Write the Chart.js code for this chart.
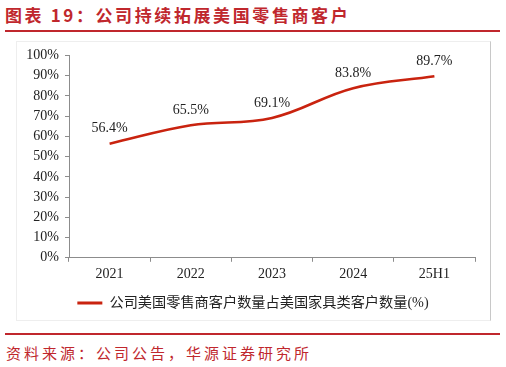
<!DOCTYPE html>
<html>
<head>
<meta charset="utf-8">
<script src="https://cdn.jsdelivr.net/npm/chart.js@4.4.0/dist/chart.umd.min.js"></script>
<style>
  html, body { margin: 0; padding: 0; background: #fff; }
  body { width: 506px; height: 367px; position: relative; overflow: hidden; }
  .title { position: absolute; left: 5px; top: 4px; font: bold 17px "Noto Sans CJK SC", sans-serif; letter-spacing: 2.6px; color: #C0272D; line-height: 22px; white-space: nowrap; }
  .rule { position: absolute; left: 5px; width: 495px; height: 2px; background: #C0272D; }
  .frame { position: absolute; left: 16px; top: 41px; width: 473px; height: 278px; border: 1px solid #eeeeee; border-right-color: #c8c8c8; }
  .chart { position: absolute; left: 16px; top: 41px; width: 474px; height: 279px; }
  .source { position: absolute; left: 6px; top: 342px; font: 15px "Noto Sans CJK SC", sans-serif; letter-spacing: 3px; color: #C0272D; line-height: 22px; white-space: nowrap; }
</style>
</head>
<body>
<div class="title">图表 19：公司持续拓展美国零售商客户</div>
<div class="rule" style="top:30px"></div>
<div class="frame"></div>
<div class="chart"><canvas id="c"></canvas></div>
<div class="rule" style="top:333px"></div>
<div class="source">资料来源：公司公告，华源证券研究所</div>

<script>
// chart data
const years = ['2021', '2022', '2023', '2024', '25H1'];
const shares = [56.4, 65.5, 69.1, 83.8, 89.7];
const seriesName = '公司美国零售商客户数量占美国家具类客户数量(%)';
const yTicks = [0, 10, 20, 30, 40, 50, 60, 70, 80, 90, 100];

const lineColor = '#C9230F';
const axisColor = '#8c8c8c';
const serif = '"Liberation Serif", "Times New Roman", serif';

// value labels above each point
const pointLabels = {
  id: 'pointLabels',
  afterDatasetsDraw(chart) {
    const ctx = chart.ctx;
    const meta = chart.getDatasetMeta(0);
    ctx.save();
    ctx.font = '14px ' + serif;
    ctx.fillStyle = '#222';
    ctx.textAlign = 'center';
    ctx.textBaseline = 'middle';
    meta.data.forEach((pt, i) => {
      ctx.fillText(shares[i].toFixed(1) + '%', pt.x, pt.y - 15);
    });
    ctx.restore();
  }
};

new Chart(document.getElementById('c'), {
  type: 'line',
  data: {
    labels: years,
    datasets: [{
      label: seriesName,
      data: shares,
      borderColor: lineColor,
      backgroundColor: lineColor,
      borderWidth: 2.6,
      tension: 0.38,
      pointRadius: 0,
      fill: false
    }]
  },
  options: {
    responsive: true,
    maintainAspectRatio: false,
    animation: false,
    layout: { padding: { left: 0, right: 0, top: 14, bottom: 0 } },
    plugins: {
      tooltip: { enabled: false },
      legend: {
        position: 'bottom',
        labels: {
          boxWidth: 25,
          boxHeight: 3,
          padding: 10,
          color: '#222',
          font: { size: 14.2, family: serif + ', "Noto Sans CJK SC"' },
          generateLabels(chart) {
            const items = Chart.defaults.plugins.legend.labels.generateLabels(chart);
            items.forEach(it => { it.lineWidth = 0; it.fillStyle = lineColor; });
            return items;
          }
        }
      }
    },
    scales: {
      x: {
        offset: true,
        grid: { display: true, offset: true, drawOnChartArea: false, tickLength: 4, color: axisColor },
        border: { color: axisColor, width: 1 },
        ticks: { color: '#222', padding: 4, font: { size: 14, family: serif } },
        afterFit(scale) { scale.height = 28; }
      },
      y: {
        min: 0,
        max: 100,
        afterBuildTicks(scale) { scale.ticks = yTicks.map(v => ({ value: v })); },
        grid: { drawOnChartArea: false, tickLength: 4, color: axisColor },
        border: { color: axisColor, width: 1 },
        ticks: { color: '#222', padding: 6, font: { size: 14, family: serif }, callback: v => v + '%' },
        afterFit(scale) { scale.width = 53; }
      },
      // empty right axis, only keeps a margin on the right so the legend stays centred
      spacer: {
        type: 'linear',
        position: 'right',
        grid: { display: false },
        border: { display: false },
        ticks: { display: false },
        afterFit(scale) { scale.width = 15; }
      }
    }
  },
  plugins: [pointLabels]
});
</script>
</body>
</html>
